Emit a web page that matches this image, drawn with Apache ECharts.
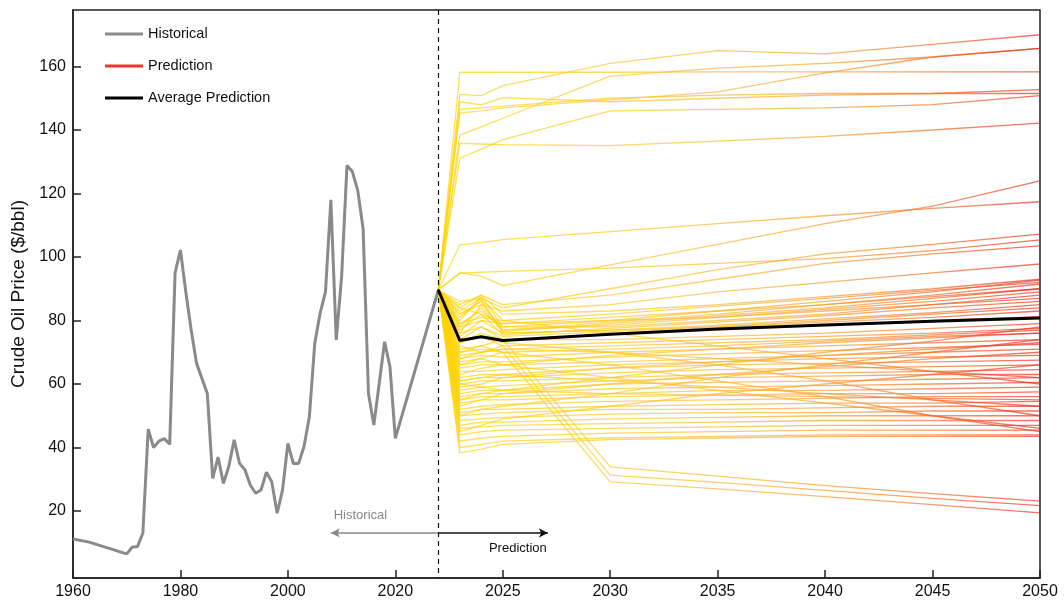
<!DOCTYPE html>
<html>
<head>
<meta charset="utf-8">
<title>Crude Oil Price</title>
<script src="https://cdn.jsdelivr.net/npm/echarts@6/dist/echarts.min.js"></script>
<style>
  html, body { margin: 0; padding: 0; background: #fff; }
  #chart { width: 1064px; height: 606px; }
</style>
</head>
<body>
<div id="chart"></div>
<script>
// historical annual prices ($/bbl)
const histYears = [1960, 1963, 1970, 1971, 1972, 1973, 1974, 1975, 1976, 1977, 1978, 1979, 1980, 1981, 1982, 1983, 1985, 1986, 1987, 1988, 1989, 1990, 1991, 1992, 1993, 1994, 1995, 1996, 1997, 1998, 1999, 2000, 2001, 2002, 2003, 2004, 2005, 2006, 2007, 2008, 2009, 2010, 2011, 2012, 2013, 2014, 2015, 2016, 2018, 2019, 2020, 2022];
const histPrices = [11.2, 10.2, 6.5, 8.6, 8.8, 13, 45.8, 40, 42, 42.8, 41, 95, 102.2, 89, 77, 66.5, 57, 30.3, 37, 28.7, 34, 42.4, 35, 33, 28.2, 25.6, 26.6, 32.2, 29.2, 19.3, 26.6, 41.3, 35, 35, 40.3, 49.7, 72.8, 82.3, 89, 118, 73.9, 93.8, 128.8, 126.9, 121, 109, 57, 47.1, 73.3, 65.4, 42.9, 89.6];

// prediction scenarios, one row per scenario, values at predYears
const predYears = [2022, 2023, 2024, 2025, 2030, 2035, 2040, 2045, 2050];
const predLines = [
  [89.6, 158.2, 158.2, 158.2, 158.2, 158.3, 158.3, 158.3, 158.3],
  [89.6, 151.2, 150.8, 154, 161, 165, 164, 167, 170],
  [89.6, 138.4, 141, 143.7, 157, 159.5, 161, 163, 165.7],
  [89.6, 148.9, 147.9, 150.2, 148.9, 150, 151, 151.5, 152.7],
  [89.6, 146.5, 147, 147.5, 150, 151, 151.5, 151.5, 151.5],
  [89.6, 145.3, 146, 147, 149.5, 152, 158, 163, 165.7],
  [89.6, 131.1, 134, 137, 146, 146.5, 147, 148, 150.8],
  [89.6, 135.8, 135.6, 135.4, 135.1, 136.5, 138, 140, 142.2],
  [89.6, 103.8, 104.5, 105.5, 108, 110.5, 113, 115.3, 117.4],
  [89.6, 95, 94, 91, 97.5, 104, 110.5, 116, 124],
  [89.6, 94.9, 95.2, 95.5, 96.5, 98, 99.5, 102, 105.4],
  [89.6, 86, 87, 84, 90, 96, 101, 104, 107.2],
  [89.6, 84, 88, 85, 88, 93, 98, 101, 103.5],
  [89.6, 82, 85, 83, 85, 89, 92, 95, 97.8],
  [89.6, 80, 87.5, 78, 80, 83, 86, 89, 92.7],
  [89.6, 82, 86, 77, 79.5, 82, 85, 88, 91.5],
  [89.6, 78, 84, 76.5, 79, 81.5, 84, 87, 90],
  [89.6, 76, 85, 77, 78.5, 81, 83.5, 86, 89],
  [89.6, 79, 83, 78, 78, 80, 82, 85, 88],
  [89.6, 84, 82, 79, 80, 81, 83, 85, 87],
  [89.6, 77, 82, 75.5, 77.5, 79.5, 81.5, 84, 86],
  [89.6, 75, 80, 76, 77, 78.5, 80.5, 82.5, 85],
  [89.6, 74, 78, 75, 76.5, 78, 80, 82, 84],
  [89.6, 81, 86.5, 76, 77, 78, 79.5, 81, 83],
  [89.6, 73, 76, 74, 75.5, 77, 78.5, 80, 81.2],
  [89.6, 72, 70, 71, 72, 73, 74, 75.5, 77],
  [89.6, 70, 71, 70, 71, 72, 73.5, 75, 76],
  [89.6, 68, 69, 68.5, 70, 71, 72, 73, 74],
  [89.6, 66, 67, 67, 68.5, 69.5, 70.5, 71.5, 72.5],
  [89.6, 65, 66, 66, 67, 68, 69, 70, 71],
  [89.6, 64, 64, 64.5, 66, 67, 68, 68.5, 69],
  [89.6, 62, 63, 63, 65, 66, 66.5, 67, 67.5],
  [89.6, 61, 62, 62, 63.5, 64.5, 65, 65.5, 66],
  [89.6, 60, 61, 61, 62, 63, 63.5, 64, 64.5],
  [89.6, 58, 59, 59.5, 61, 62, 62.5, 63, 63],
  [89.6, 57, 58, 58, 60, 60.5, 61, 61.5, 62],
  [89.6, 56, 57, 57, 58.5, 59, 59.5, 60, 60.5],
  [89.6, 55, 56, 56, 57, 58, 58, 58.5, 59],
  [89.6, 54, 55, 55, 56, 56.5, 57, 57, 57.5],
  [89.6, 52, 53, 53.5, 54.5, 55, 55.5, 56, 56],
  [89.6, 51, 52, 52, 53, 53.5, 54, 54, 54.5],
  [89.6, 50, 50.5, 51, 52, 52, 52.5, 53, 53],
  [89.6, 48.5, 49, 49.5, 50.5, 51, 51, 51.5, 51.5],
  [89.6, 47, 48, 48, 49, 49.5, 50, 50, 50],
  [89.6, 46, 46.5, 47, 47.5, 48, 48.5, 48.5, 48.5],
  [89.6, 44, 45, 45.5, 46, 46.5, 47, 47, 47],
  [89.6, 42, 43, 43.5, 44.5, 45, 45.5, 45.5, 45.5],
  [89.6, 40, 41, 42, 43, 43.5, 44, 44, 44],
  [89.6, 38.3, 39.5, 41, 42.5, 43, 43.5, 43.5, 43.5],
  [89.6, 50, 52, 53, 57, 62, 66, 70, 74],
  [89.6, 55, 57, 58, 62, 66, 70, 73.5, 78],
  [89.6, 71, 72, 70, 66, 61, 56, 50, 45],
  [89.6, 67, 68, 66, 62, 58, 54, 50, 46],
  [89.6, 74, 75, 73, 70, 66, 61, 55, 50],
  [89.6, 70, 72, 74, 33.9, 31, 28, 25.5, 23.1],
  [89.6, 68, 70, 72, 31.3, 29, 26.5, 24, 21.7],
  [89.6, 66, 68, 70, 29.2, 27, 24.5, 22, 19.4],
  [89.6, 76, 78, 74, 74, 75, 76, 77.5, 79],
  [89.6, 73, 75, 72, 73, 74, 75, 76, 77.5],
  [89.6, 63, 65, 66, 69, 71, 73, 74.5, 76],
  [89.6, 59, 60, 62, 65, 67, 69, 71, 73],
  [89.6, 53, 55, 57, 60, 63, 65.5, 68, 70],
  [89.6, 45, 47, 49, 53, 57, 60, 63, 66],
  [89.6, 78, 80, 79, 81, 83, 85, 87.5, 90],
  [89.6, 83, 87, 80, 82, 84.5, 87, 89.5, 92],
  [89.6, 85, 88, 82, 83, 85, 87.5, 90, 93],
  [89.6, 69, 70, 71, 70, 68, 66, 64, 62],
  [89.6, 61, 62, 63, 61, 59, 57, 55, 53],
  [89.6, 79, 81, 80, 76, 72, 68, 64, 60],
  [89.6, 60, 59, 58, 57, 56.5, 56, 55.5, 55]
];
const avgPrice = [89.6, 73.7, 74.9, 73.7, 75.7, 77.3, 78.6, 79.8, 80.8];

const xTickYears = [1960, 1980, 2000, 2020, 2025, 2030, 2035, 2040, 2045, 2050];
const yTicks = [20, 40, 60, 80, 100, 120, 140, 160];

// broken time axis: before 2020 one year takes a quarter of the width
function toAxis(year) {
  return year >= 2020 ? year : 2020 - (2020 - year) / 4;
}
function fromAxis(v) {
  return v >= 2020 ? Math.round(v) : Math.round(2020 - (2020 - v) * 4);
}

const font = "'Liberation Sans', Arial, sans-serif";
const predColor = new echarts.graphic.LinearGradient(0, 0, 1, 0, [
  { offset: 0, color: '#ffd400' },
  { offset: 0.35, color: '#fcc42a' },
  { offset: 0.6, color: '#f8a52a' },
  { offset: 0.8, color: '#f27323' },
  { offset: 1, color: '#e8261c' }
]);

const predSeries = predLines.map(row => ({
  type: 'line',
  silent: true,
  showSymbol: false,
  z: 2,
  data: row.map((v, i) => [toAxis(predYears[i]), v]),
  lineStyle: { color: predColor, width: 1.3, opacity: 0.68 }
}));

const chart = echarts.init(document.getElementById('chart'));
chart.setOption({
  animation: false,
  textStyle: { fontFamily: font },
  grid: {
    left: 73, right: 24, top: 10, bottom: 28,
    show: true, borderColor: '#222', borderWidth: 1.5,
    outerBoundsMode: 'none'
  },
  legend: {
    orient: 'vertical',
    left: 100, top: 20,
    itemWidth: 38, itemHeight: 3, itemGap: 14,
    textStyle: { fontSize: 14.5, color: '#111', lineHeight: 18 },
    data: [
      { name: 'Historical', icon: 'rect' },
      { name: 'Prediction', icon: 'rect' },
      { name: 'Average Prediction', icon: 'rect' }
    ]
  },
  xAxis: {
    type: 'value',
    min: toAxis(1960),
    max: 2050,
    axisLine: { onZero: false, lineStyle: { color: '#222', width: 1.5 } },
    axisTick: {
      inside: true, length: 8,
      lineStyle: { color: '#222', width: 1.5 },
      customValues: xTickYears.map(toAxis)
    },
    axisLabel: {
      fontSize: 16, color: '#111', margin: 6,
      customValues: xTickYears.map(toAxis),
      formatter: v => String(fromAxis(v))
    },
    splitLine: { show: false }
  },
  yAxis: {
    type: 'value',
    min: -1.1,
    max: 177.8,
    name: 'Crude Oil Price ($/bbl)',
    nameLocation: 'middle',
    nameGap: 45,
    nameTextStyle: { fontSize: 19, color: '#111' },
    axisLine: { show: true, onZero: false, lineStyle: { color: '#222', width: 1.5 } },
    axisTick: {
      show: true, inside: true, length: 8,
      lineStyle: { color: '#222', width: 1.5 },
      customValues: yTicks
    },
    axisLabel: { fontSize: 16, color: '#111', margin: 7, customValues: yTicks },
    splitLine: { show: false }
  },
  series: [
    ...predSeries,
    {
      name: 'Historical',
      type: 'line',
      showSymbol: false,
      z: 3,
      color: '#8a8a8a',
      data: histYears.map((y, i) => [toAxis(y), histPrices[i]]),
      lineStyle: { color: '#8a8a8a', width: 3 },
      markLine: {
        silent: true,
        symbol: 'none',
        animation: false,
        label: { show: false },
        data: [
          [
            { coord: [toAxis(2022), 177.8], lineStyle: { color: '#111', width: 1.2, type: [5, 4] } },
            { coord: [toAxis(2022), -1.1] }
          ],
          [
            { coord: [toAxis(2022), 13.1], symbol: 'none', lineStyle: { color: '#888', width: 1.5, type: 'solid' } },
            { coord: [toAxis(2008), 13.1], symbol: 'arrow', symbolSize: [7, 9] }
          ],
          [
            { coord: [toAxis(2022), 13.1], symbol: 'none', lineStyle: { color: '#111', width: 1.5, type: 'solid' } },
            { coord: [toAxis(2027.1), 13.1], symbol: 'arrow', symbolSize: [7, 9] }
          ]
        ]
      },
      markPoint: {
        silent: true,
        symbol: 'circle',
        symbolSize: 0,
        data: [
          { coord: [toAxis(2013.5), 18.6], label: { show: true, position: 'inside', formatter: 'Historical', color: '#888', fontSize: 13 } },
          { coord: [toAxis(2025.7), 8.3], label: { show: true, position: 'inside', formatter: 'Prediction', color: '#111', fontSize: 13 } }
        ]
      }
    },
    {
      name: 'Prediction',
      type: 'line',
      color: '#e8382a',
      lineStyle: { color: '#e8382a' },
      data: []
    },
    {
      name: 'Average Prediction',
      type: 'line',
      showSymbol: false,
      z: 5,
      color: '#000',
      data: predYears.map((y, i) => [toAxis(y), avgPrice[i]]),
      lineStyle: { color: '#000', width: 3 }
    }
  ]
});
</script>
</body>
</html>
